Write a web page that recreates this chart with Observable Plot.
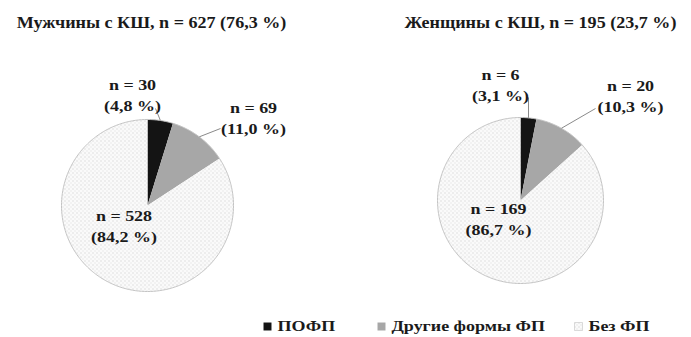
<!DOCTYPE html>
<html>
<head>
<meta charset="utf-8">
<script src="https://cdn.jsdelivr.net/npm/d3@7"></script>
<script src="https://cdn.jsdelivr.net/npm/@observablehq/plot@0.6"></script>
<style>
  body { margin: 0; background: #fff; }
  #chart svg { display: block; }
</style>
</head>
<body>
<div id="chart"></div>
<script>
// Patients with cardiogenic shock (КШ), split by sex, by atrial fibrillation status
const groups = ["Мужчины с КШ", "Женщины с КШ"];
const categories = ["ПОФП", "Другие формы ФП", "Без ФП"];
const menCounts = [30, 69, 528];
const womenCounts = [6, 20, 169];

const W = 691, H = 337;
const FONT = "Liberation Serif";
const INK = "#1a1a1a";
const fills = ["#141414", "url(#hatch)", "url(#dots)"];

// pie layout: centre, radius, title anchor, label offsets and leader-line ends (px, relative to centre)
const layout = [
  {cx: 147, cy: 205, r: 86, title: [151, 22],
   labels: [[-15, -112], [106, -89], [-23.5, 19]],
   leaders: [[8, -97], [73, -77], null]},
  {cx: 520, cy: 200, r: 83, title: [540, 22],
   labels: [[-20, -117], [110, -106], [-22, 17]],
   leaders: [[8, -103], [75, -92], null]}
];

const fmt = (v) => v.toFixed(1).replace(".", ",");
const countsBy = [menCounts, womenCounts];
const grandTotal = d3.sum(countsBy.flat());

const slices = [], outlines = [], labels = [], leaders = [], titles = [];
countsBy.forEach((counts, g) => {
  const L = layout[g];
  const total = d3.sum(counts);
  const pt = (a, rr = L.r) => ({x: L.cx + rr * Math.sin(a), y: L.cy - rr * Math.cos(a)});
  titles.push({x: L.title[0], y: L.title[1],
    text: `${groups[g]}, n = ${total} (${fmt(100 * total / grandTotal)} %)`});
  let acc = 0;
  counts.forEach((n, i) => {
    const a0 = 2 * Math.PI * acc / total;
    acc += n;
    const a1 = 2 * Math.PI * acc / total;
    const steps = Math.max(2, Math.ceil((a1 - a0) / (Math.PI / 180)));
    const key = `${g}-${i}`;
    slices.push({key, cat: i, x: L.cx, y: L.cy});
    for (let s = 0; s <= steps; s++) {
      const p = pt(a0 + (a1 - a0) * s / steps);
      slices.push({key, cat: i, ...p});
    }
    slices.push({key, cat: i, x: L.cx, y: L.cy});
    labels.push({x: L.cx + L.labels[i][0], y: L.cy + L.labels[i][1],
      text: `n = ${n}\n(${fmt(100 * n / total)} %)`});
    if (L.leaders[i]) {
      const m = pt((a0 + a1) / 2);
      leaders.push({x1: m.x, y1: m.y, x2: L.cx + L.leaders[i][0], y2: L.cy + L.leaders[i][1]});
    }
  });
  for (let s = 0; s <= 360; s++) outlines.push({g, ...pt(s * Math.PI / 180)});
});

// legend items: swatch centre and text start
const legendX = [267, 381, 578];
const legendY = 326;
const legend = categories.map((c, i) => ({x: legendX[i], y: legendY, cat: i, text: c}));

const chart = Plot.plot({
  width: W,
  height: H,
  margin: 0,
  style: {fontFamily: FONT, background: "#fff"},
  x: {type: "identity", axis: null},
  y: {type: "identity", axis: null},
  marks: [
    ...categories.map((c, i) => Plot.line(slices.filter(d => d.cat === i),
      {x: "x", y: "y", z: "key", fill: fills[i], stroke: "none", curve: "linear"})),
    Plot.line(outlines, {x: "x", y: "y", z: "g", stroke: "#c4c4c4", strokeWidth: 1}),
    Plot.link(leaders, {x1: "x1", y1: "y1", x2: "x2", y2: "y2", stroke: "#8a8a8a", strokeWidth: 1}),
    Plot.text(labels, {x: "x", y: "y", text: "text", fontSize: 15, fontWeight: "bold",
      fontFamily: FONT, fill: INK, lineHeight: 1.45, className: "wide"}),
    Plot.text(titles, {x: "x", y: "y", text: "text", fontSize: 16, fontWeight: "bold",
      fontFamily: FONT, fill: INK, className: "title"}),
    ...categories.map((c, i) => Plot.dot(legend.filter(d => d.cat === i),
      {x: "x", y: "y", symbol: "square", r: 4.5, fill: fills[i],
       stroke: i === 2 ? "#d0d0d0" : "none", strokeWidth: 0.8})),
    Plot.text(legend, {x: d => d.x + 10, y: "y", text: "text", textAnchor: "start",
      fontSize: 15, fontWeight: "bold", fontFamily: FONT, fill: INK, className: "wide"})
  ]
});

// the typeface is set a little wider than regular Times
d3.select(chart).selectAll(".wide text").attr("transform", function () {
  return (this.getAttribute("transform") || "") + " scale(1.2,1)";
});
d3.select(chart).selectAll(".title text").attr("transform", function () {
  return (this.getAttribute("transform") || "") + " scale(1.13,1)";
});

// fill patterns for the two textured slices
const defs = d3.select(chart).insert("defs", ":first-child");
const hatch = defs.append("pattern").attr("id", "hatch").attr("patternUnits", "userSpaceOnUse")
  .attr("width", 2).attr("height", 2);
hatch.append("rect").attr("width", 2).attr("height", 2).attr("fill", "#c2c2c2");
hatch.append("rect").attr("width", 1).attr("height", 1).attr("fill", "#8c8c8c");
hatch.append("rect").attr("x", 1).attr("y", 1).attr("width", 1).attr("height", 1).attr("fill", "#8c8c8c");
const dots = defs.append("pattern").attr("id", "dots").attr("patternUnits", "userSpaceOnUse")
  .attr("width", 4).attr("height", 4);
dots.append("rect").attr("width", 4).attr("height", 4).attr("fill", "#fafafa");
dots.append("rect").attr("width", 1).attr("height", 1).attr("fill", "#c4c4c4");
dots.append("rect").attr("x", 2).attr("y", 2).attr("width", 1).attr("height", 1).attr("fill", "#dadada");

document.getElementById("chart").append(chart);
</script>
</body>
</html>
